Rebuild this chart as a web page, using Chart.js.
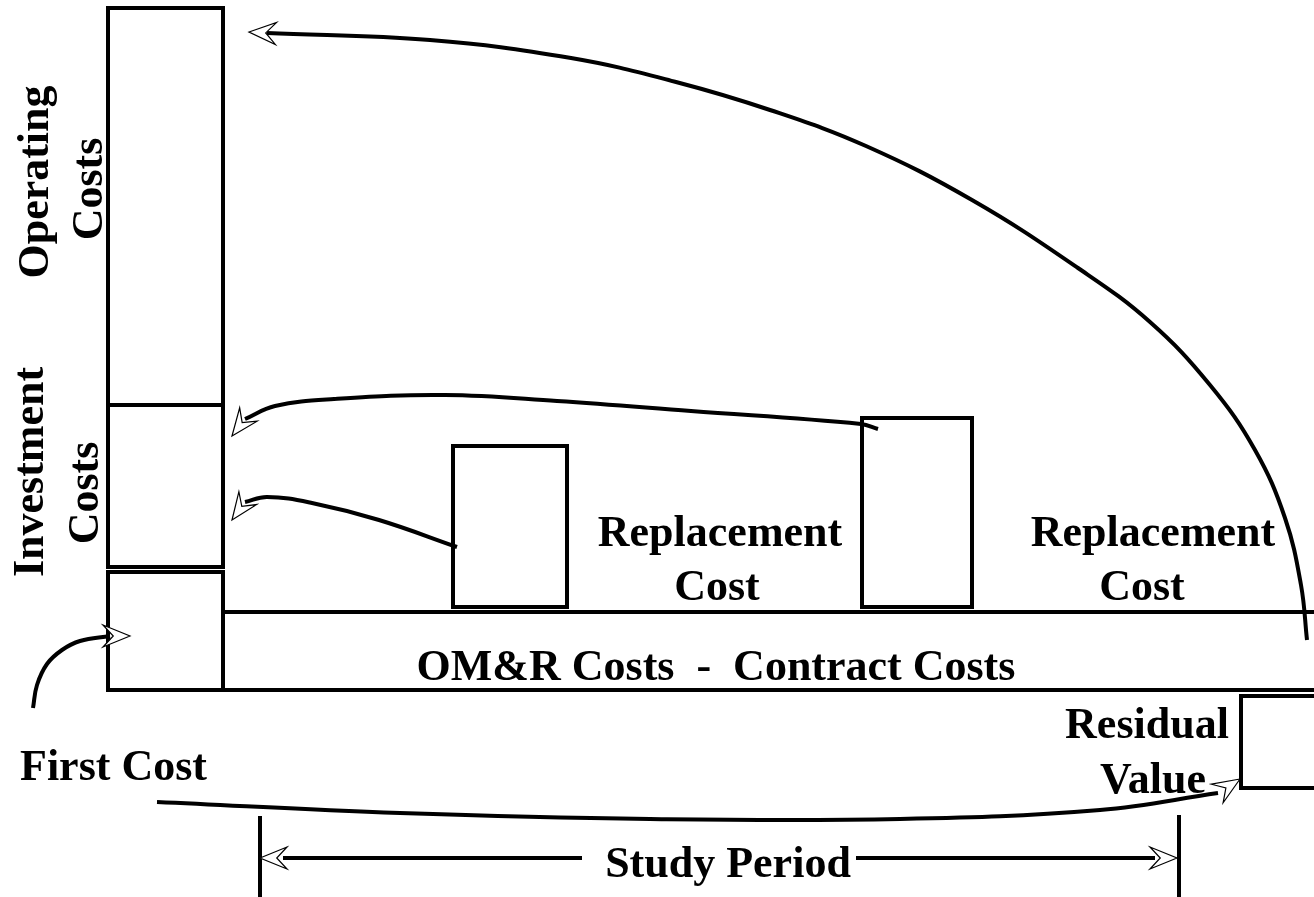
<!DOCTYPE html>
<html>
<head>
<meta charset="utf-8">
<title>Life-Cycle Cost Elements</title>
<script src="https://cdn.jsdelivr.net/npm/chart.js@4.4.1/dist/chart.umd.min.js"></script>
<style>
  html, body { margin: 0; padding: 0; background: #fff; }
  #wrap { width: 1314px; height: 897px; position: relative; }
</style>
</head>
<body>
<div id="wrap"><canvas id="myChart"></canvas></div>
<script>
// cost blocks (diagram units: x = time along the study period, y = cost level, measured downwards)
const blockNames  = ['Operating', 'Investment', 'First', 'Replacement 1', 'Replacement 2', 'Residual'];
const blockLeft   = [108, 108, 108, 453, 862, 1241];
const blockRight  = [223, 223, 223, 567, 972, 1330];
const blockTop    = [8, 405, 572, 446, 418, 696];
const blockBottom = [405, 567, 690, 607, 607, 788];

// OM&R band and study period markers
const omrTopX = [223, 1320];
const omrTopY = [612, 612];
const omrBottomX = [108, 1320];
const omrBottomY = [690, 690];
const studyStartX = [260, 260];
const studyStartY = [818, 900];
const studyEndX = [1179, 1179];
const studyEndY = [817, 900];
const studyLeftX = [285, 580];
const studyRightX = [858, 1153];
const studyLineY = [858, 858];

// curved flows
const operatingArcX = [267, 430, 571, 676, 770, 866, 972, 1078, 1150, 1210, 1255, 1285, 1301, 1307];
const operatingArcY = [33, 40, 58, 82, 110, 146, 200, 268, 322, 385, 450, 518, 585, 640];
const replace2ArcX = [245, 275, 334, 445, 557, 691, 861, 878];
const replace2ArcY = [419, 406, 399, 395, 401, 411, 424, 429];
const replace1ArcX = [245, 267, 312, 379, 457];
const replace1ArcY = [502, 497, 503, 520, 547];
const firstArcX = [33, 37, 47, 62, 80, 110];
const firstArcY = [708, 685, 664, 650, 641, 636];
const residualArcX = [157, 400, 650, 900, 1100, 1218];
const residualArcY = [802, 813, 819, 819, 810, 793];

// arrow heads: tip and the point where the shaft meets the head
const arrowTipX  = [249, 232, 232, 130, 1240, 260, 1177];
const arrowTipY  = [32, 436, 520, 636, 779, 858, 858];
const arrowBaseX = [267, 245, 245, 110, 1218, 285, 1153];
const arrowBaseY = [33, 419, 502, 636, 793, 858, 858];

// texts
const labelText = ['Operating', 'Costs', 'Investment', 'Costs',
  'Replacement', 'Cost', 'Replacement', 'Cost',
  'OM&R Costs  -  Contract Costs', 'First Cost', 'Residual', 'Value', 'Study Period'];

function pts(xs, ys) {
  return xs.map(function (x, i) { return { x: x, y: ys[i] }; });
}

function lineSet(data, curved) {
  return {
    data: data,
    showLine: true,
    borderColor: '#000',
    borderWidth: 4,
    pointRadius: 0,
    fill: false,
    clip: false,
    tension: curved ? 0.4 : 0,
    borderCapStyle: curved ? 'butt' : 'square',
    borderJoinStyle: 'miter'
  };
}

var datasets = [];
blockNames.forEach(function (name, i) {
  var l = blockLeft[i], r = blockRight[i], t = blockTop[i], b = blockBottom[i];
  datasets.push(lineSet(pts([l, r, r, l, l], [t, t, b, b, t]), false));
});
datasets.push(lineSet(pts(omrTopX, omrTopY), false));
datasets.push(lineSet(pts(omrBottomX, omrBottomY), false));
datasets.push(lineSet(pts(studyStartX, studyStartY), false));
datasets.push(lineSet(pts(studyEndX, studyEndY), false));
datasets.push(lineSet(pts(studyLeftX, studyLineY), false));
datasets.push(lineSet(pts(studyRightX, studyLineY), false));
datasets.push(lineSet(pts(operatingArcX, operatingArcY), true));
datasets.push(lineSet(pts(replace2ArcX, replace2ArcY), true));
datasets.push(lineSet(pts(replace1ArcX, replace1ArcY), true));
datasets.push(lineSet(pts(firstArcX, firstArcY), true));
datasets.push(lineSet(pts(residualArcX, residualArcY), true));

// where each text goes: [x, y of baseline, align, rotated]
var labelPlace = [
  [48, 182, 'center', true], [102, 189, 'center', true],
  [43, 472, 'center', true], [98, 493, 'center', true],
  [720, 546, 'center', false], [717, 600, 'center', false],
  [1153, 546, 'center', false], [1142, 600, 'center', false],
  [716, 680, 'center', false], [20, 780, 'left', false],
  [1147, 738, 'center', false], [1153, 793, 'center', false],
  [728, 877, 'center', false]
];

var diagramExtras = {
  id: 'diagramExtras',
  afterDatasetsDraw: function (chart) {
    var ctx = chart.ctx;
    var xs = chart.scales.x, ys = chart.scales.y;

    // open arrow heads
    ctx.save();
    ctx.lineWidth = 1.2;
    ctx.strokeStyle = '#000';
    ctx.fillStyle = '#fff';
    ctx.lineJoin = 'miter';
    arrowTipX.forEach(function (tx, i) {
      var px = xs.getPixelForValue(tx), py = ys.getPixelForValue(arrowTipY[i]);
      var bx = xs.getPixelForValue(arrowBaseX[i]), by = ys.getPixelForValue(arrowBaseY[i]);
      var dx = px - bx, dy = py - by, d = Math.sqrt(dx * dx + dy * dy);
      dx /= d; dy /= d;
      var nx = -dy, ny = dx, L = 27, W = 11;
      ctx.beginPath();
      ctx.moveTo(px, py);
      ctx.lineTo(px - dx * L + nx * W, py - dy * L + ny * W);
      ctx.lineTo(px - dx * L * 0.62, py - dy * L * 0.62);
      ctx.lineTo(px - dx * L - nx * W, py - dy * L - ny * W);
      ctx.closePath();
      ctx.fill();
      ctx.stroke();
    });
    ctx.restore();

    // texts
    ctx.save();
    ctx.fillStyle = '#000';
    ctx.font = 'bold 44px "Liberation Serif", "Times New Roman", serif';
    ctx.textBaseline = 'alphabetic';
    labelText.forEach(function (txt, i) {
      var p = labelPlace[i];
      var x = xs.getPixelForValue(p[0]), y = ys.getPixelForValue(p[1]);
      ctx.save();
      ctx.textAlign = p[2];
      ctx.translate(x, y);
      if (p[3]) ctx.rotate(-Math.PI / 2);
      ctx.fillText(txt, 0, 0);
      ctx.restore();
    });
    ctx.restore();
  }
};

var ctx = document.getElementById('myChart').getContext('2d');
var chart = new Chart(ctx, {
  type: 'scatter',
  data: { datasets: datasets },
  options: {
    responsive: true,
    maintainAspectRatio: false,
    animation: false,
    events: [],
    layout: { padding: 0 },
    plugins: { legend: { display: false }, tooltip: { enabled: false } },
    scales: {
      x: { type: 'linear', min: 0, max: 1314, display: false },
      y: { type: 'linear', min: 0, max: 897, reverse: true, display: false }
    }
  },
  plugins: [diagramExtras]
});
</script>
</body>
</html>
